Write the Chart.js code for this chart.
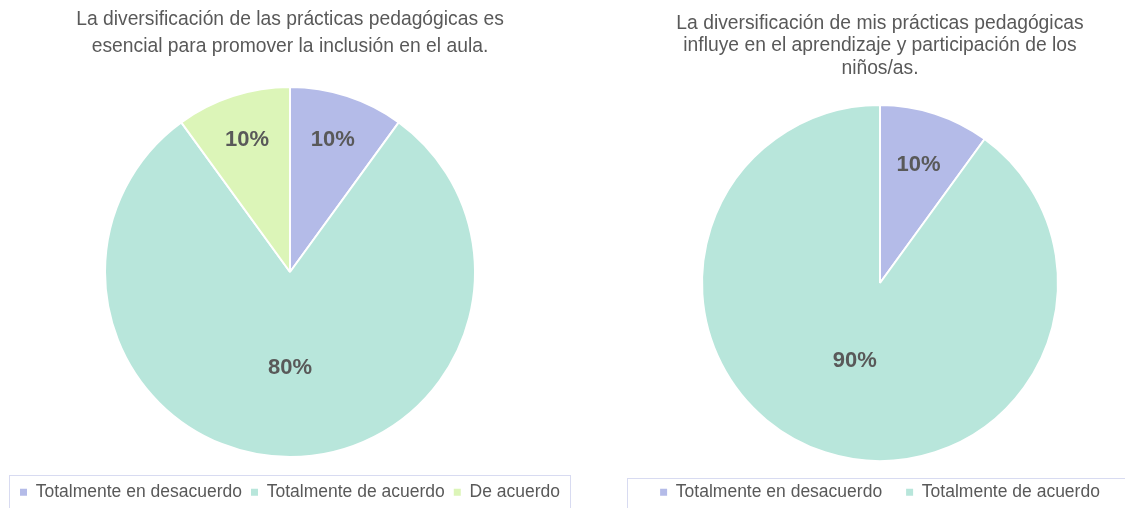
<!DOCTYPE html>
<html>
<head>
<meta charset="utf-8">
<script src="https://cdn.jsdelivr.net/npm/chart.js@4/dist/chart.umd.min.js"></script>
<style>
    html, body { margin: 0; padding: 0; background: #fff; width: 1125px; height: 508px; overflow: hidden; }
    canvas { position: absolute; top: 0; }
    #chartLeft { left: 0; }
    #chartRight { left: 627px; }
</style>
</head>
<body>
<canvas id="chartLeft" width="580" height="511"></canvas>
<canvas id="chartRight" width="506" height="511"></canvas>
<script>
// Chart data
const leftTitle = [
    'La diversificación de las prácticas pedagógicas es',
    'esencial para promover la inclusión en el aula.'
];
const leftCategories = ['Totalmente en desacuerdo', 'Totalmente de acuerdo', 'De acuerdo'];
const leftValues = [10, 80, 10];

const rightTitle = [
    'La diversificación de mis prácticas pedagógicas',
    'influye en el aprendizaje y participación de los',
    'niños/as.'
];
const rightCategories = ['Totalmente en desacuerdo', 'Totalmente de acuerdo'];
const rightValues = [10, 90];

const sliceColors = ['#B4BBE8', '#B8E6DB', '#DCF5B8'];

const FONT = '"Liberation Sans", Arial, Helvetica, sans-serif';
const TEXT_COLOR = '#595959';

// Percent labels inside the slices
const pieLabels = {
    id: 'pieLabels',
    afterDatasetsDraw(chart, args, opts) {
        const ctx = chart.ctx;
        const meta = chart.getDatasetMeta(0);
        const values = chart.data.datasets[0].data;
        const total = values.reduce((a, b) => a + b, 0);
        ctx.save();
        ctx.font = 'bold 22px ' + FONT;
        ctx.fillStyle = TEXT_COLOR;
        ctx.textAlign = 'center';
        ctx.textBaseline = 'middle';
        meta.data.forEach((arc, i) => {
            const p = arc.getProps(['startAngle', 'endAngle', 'outerRadius', 'x', 'y'], true);
            const share = values[i] / total;
            const mid = (p.startAngle + p.endAngle) / 2;
            const dist = p.outerRadius * (share < 0.25 ? opts.small : opts.big);
            const pct = Math.round(share * 100) + '%';
            ctx.fillText(pct, p.x + Math.cos(mid) * dist, p.y + Math.sin(mid) * dist);
        });
        ctx.restore();
    }
};

// Thin frame around the legend
const legendFrame = {
    id: 'legendFrame',
    afterDraw(chart, args, opts) {
        const lg = chart.legend;
        if (!lg) return;
        const ctx = chart.ctx;
        ctx.save();
        ctx.strokeStyle = '#D8DBF1';
        ctx.lineWidth = 1;
        const top = Math.round(lg.top + opts.offset) + 0.5;
        ctx.strokeRect(Math.round(lg.left) + 0.5, top, Math.round(lg.right - lg.left) - 1, chart.height - top + 5);
        ctx.restore();
    }
};

function makePie(canvasId, titleLines, categories, values, cfg) {
    const ctx = document.getElementById(canvasId).getContext('2d');
    return new Chart(ctx, {
        type: 'pie',
        data: {
            labels: categories,
            datasets: [{
                data: values,
                backgroundColor: sliceColors.slice(0, values.length),
                borderColor: '#ffffff',
                borderWidth: 2
            }]
        },
        options: {
            responsive: false,
            animation: false,
            devicePixelRatio: 1,
            radius: cfg.radius,
            layout: { padding: cfg.padding },
            plugins: {
                title: {
                    display: true,
                    text: titleLines,
                    color: TEXT_COLOR,
                    font: { family: FONT, size: 19.3, weight: 'normal', lineHeight: cfg.titleLineHeight },
                    padding: cfg.titlePadding
                },
                legend: {
                    position: 'bottom',
                    labels: {
                        color: TEXT_COLOR,
                        font: { family: FONT, size: 17.5 },
                        boxWidth: 7,
                        boxHeight: 7,
                        padding: cfg.legendPadding,
                        generateLabels(chart) {
                            return Chart.overrides.pie.plugins.legend.labels.generateLabels(chart)
                                .map(item => Object.assign(item, { lineWidth: 0, strokeStyle: 'transparent' }));
                        }
                    }
                },
                tooltip: { enabled: false },
                pieLabels: cfg.labels,
                legendFrame: { offset: cfg.frameOffset }
            }
        },
        plugins: [pieLabels, legendFrame]
    });
}

makePie('chartLeft', leftTitle, leftCategories, leftValues, {
    radius: 185,
    padding: { left: 9, right: 9, top: 0, bottom: 0 },
    titleLineHeight: 1.4,
    titlePadding: { top: 6, bottom: 9.5 },
    legendPadding: 9,
    frameOffset: 0,
    labels: { small: 0.75, big: 0.52 }
});

makePie('chartRight', rightTitle, rightCategories, rightValues, {
    radius: 178,
    padding: { left: 0, right: 0, top: 0, bottom: 0 },
    titleLineHeight: 1.166,
    titlePadding: { top: 12, bottom: 27 },
    legendPadding: 24,
    frameOffset: 18.5,
    labels: { small: 0.7, big: 0.46 }
});
</script>
</body>
</html>
